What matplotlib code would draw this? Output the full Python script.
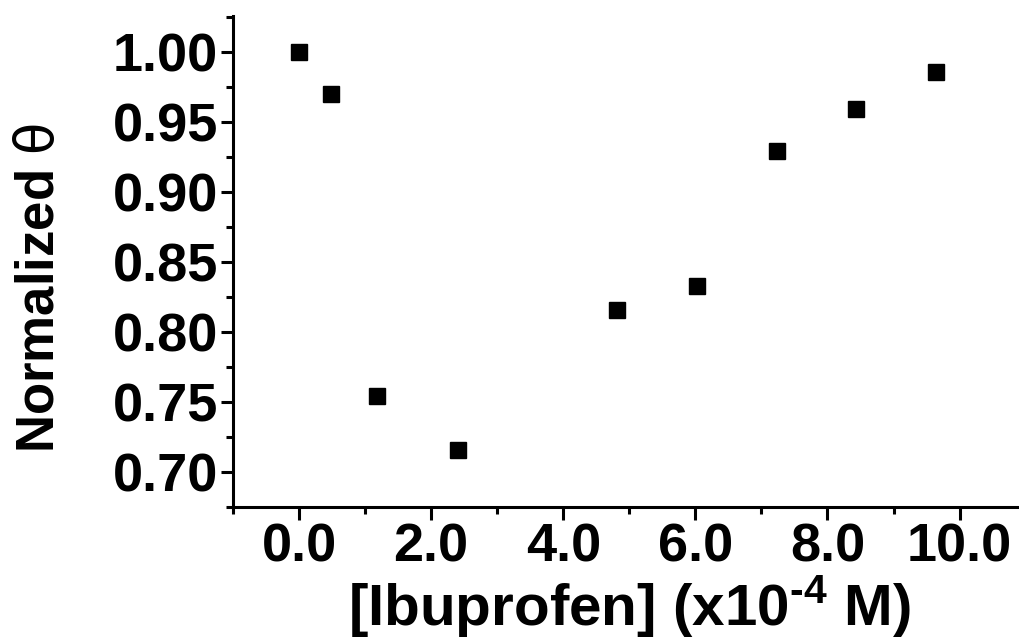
import numpy as np
import matplotlib
matplotlib.use("Agg")
import matplotlib.pyplot as plt
from matplotlib.ticker import MultipleLocator, FormatStrFormatter

# ibuprofen concentration (x1e-4 M) and normalized theta
conc = [0.0, 0.49, 1.18, 2.41, 4.81, 6.02, 7.23, 8.43, 9.64]
theta = [1.000, 0.970, 0.754, 0.716, 0.816, 0.833, 0.929, 0.959, 0.986]

plt.rcParams['font.family'] = ['Liberation Sans', 'DejaVu Sans']
plt.rcParams['font.weight'] = 'bold'
plt.rcParams['mathtext.fontset'] = 'custom'
plt.rcParams['mathtext.rm'] = 'Liberation Sans:bold'
plt.rcParams['mathtext.bf'] = 'Liberation Sans:bold'
plt.rcParams['mathtext.sf'] = 'DejaVu Sans:normal'

fig = plt.figure(figsize=(10.19, 6.40), dpi=100)
ax = fig.add_axes([0.2287, 0.2078, 0.7713, 0.767])

ax.plot(conc, theta, 's', color='k', ms=11.5, mec='k')

ax.set_xlim(-1.0, 10.9)
ax.set_ylim(0.675, 1.0257)

ax.xaxis.set_major_locator(MultipleLocator(2))
ax.xaxis.set_minor_locator(MultipleLocator(1))
ax.yaxis.set_major_locator(MultipleLocator(0.05))
ax.yaxis.set_minor_locator(MultipleLocator(0.025))
ax.xaxis.set_major_formatter(FormatStrFormatter('%.1f'))
ax.yaxis.set_major_formatter(FormatStrFormatter('%.2f'))

for s in ['top', 'right']:
    ax.spines[s].set_visible(False)
for s in ['left', 'bottom']:
    ax.spines[s].set_linewidth(2.2)

ax.tick_params(which='major', direction='out', length=9, width=2.2,
               labelsize=39, pad=2)
ax.tick_params(which='minor', direction='out', length=5, width=2.2)
for lab in ax.get_xticklabels() + ax.get_yticklabels():
    lab.set_fontweight('bold')

ax.set_xlabel(r'[Ibuprofen] (x10$^{\text{-4}}$ M)', fontsize=42,
              fontweight='bold')
ax.xaxis.set_label_coords(0.504, -0.136)
ax.set_ylabel(r'Normalized $\mathsf{\theta}$', fontsize=38, fontweight='bold',
              va='center')
ax.yaxis.set_label_coords(-0.245, 0.446)

fig.savefig('out.png', dpi=100)
